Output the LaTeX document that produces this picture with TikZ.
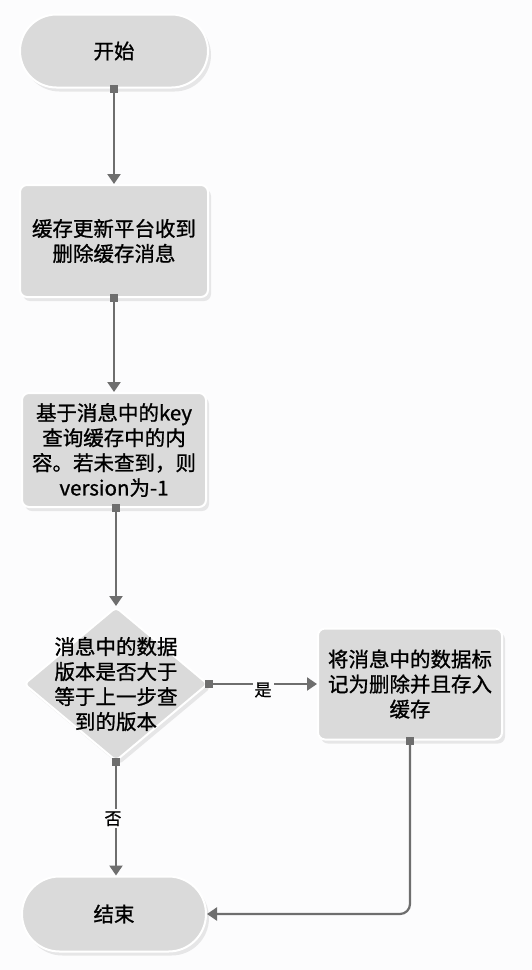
\documentclass[tikz,border=0pt]{standalone}
\usepackage{fontspec}
\setmainfont{Noto Sans CJK SC}[FakeBold=1]
\usetikzlibrary{shapes.geometric,shapes.misc,arrows.meta,shadows}
\definecolor{linec}{HTML}{6E6E6E}
\definecolor{boxfill}{HTML}{DADADA}
\definecolor{bgc}{HTML}{FCFCFD}
\tikzset{
  x=1pt, y=-1pt,
  base/.style={fill=boxfill, draw=white, line width=2pt,
    drop shadow={shadow xshift=3pt, shadow yshift=-4pt, fill=black!25, opacity=0.35},
    font=\fontsize{20.5}{25}\selectfont, align=center, inner sep=0pt},
  term/.style={base, rounded rectangle, minimum width=188pt, minimum height=73pt},
  proc/.style={base, rectangle, rounded corners=7pt},
  dec/.style={base, diamond, minimum width=184pt, minimum height=154pt, rounded corners=4pt},
  conn/.style={draw=linec, line width=2.2pt, -{Triangle[length=10pt,width=13pt]}},
  sq/.style={fill=linec, minimum size=8pt, inner sep=0pt, draw=none},
  lbl/.style={fill=bgc, font=\fontsize{17}{20}\selectfont, inner sep=2pt}
}
\begin{document}
\begin{tikzpicture}
\fill[bgc] (0,0) rectangle (532,970);
\useasboundingbox (0,0) rectangle (532,970);

\node[term] (start) at (114,51) {开始};
\node[proc, minimum width=188pt, minimum height=112pt] (b1) at (114,241) {缓存更新平台收到\\删除缓存消息};
\node[proc, minimum width=184pt, minimum height=114pt] (b2) at (114,450) {基于消息中的key\\查询缓存中的内\\容。若未查到，则\\version为-1};
\node[dec] (d) at (116,684) {};
\node[font=\fontsize{20.5}{25}\selectfont, align=center] (dt) at (d.center) {消息中的数据\\版本是否大于\\等于上一步查\\到的版本};
\node[proc, minimum width=184pt, minimum height=111pt] (b3) at (410,684) {将消息中的数据标\\记为删除并且存入\\缓存};
\node[term, minimum width=184pt, minimum height=75pt] (end) at (114,914) {结束};

\draw[conn] (start.south) -- (b1.north);
\draw[conn] (b1.south) -- (b2.north);
\draw[conn] ([xshift=2pt]b2.south) -- (d.north);
\draw[conn] (d.east) -- node[lbl, yshift=-6pt] {是} (b3.west);
\draw[conn] (d.south) -- node[lbl, xshift=-3pt] {否} (d.south |- end.north);
\draw[conn, rounded corners=10pt] (b3.south) |- (end.east);

\node[sq] (s1) at (start.south) {};
\node[sq] (s2) at (b1.south) {};
\node[sq] (s3) at ([xshift=2pt]b2.south) {};
\node[sq] (s4) at (d.east) {};
\node[sq] (s5) at (d.south) {};
\node[sq] (s6) at (b3.south) {};
\end{tikzpicture}
\end{document}
